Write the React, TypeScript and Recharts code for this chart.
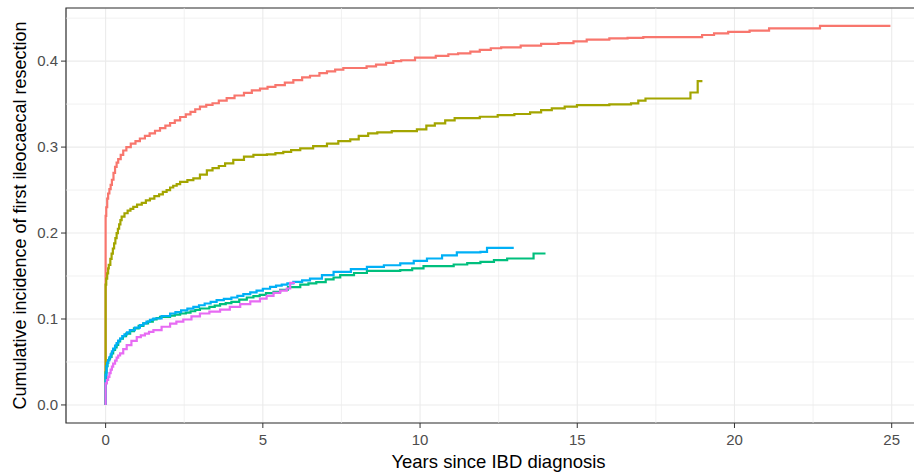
import { LineChart, Line, XAxis, YAxis, CartesianGrid, ReferenceLine, ReferenceArea } from 'recharts'

// [years, cumulative incidence] step points
const groupA: [number, number][] = [
  [0, 0], [0, 0.22], [0.02, 0.23], [0.05, 0.24], [0.08, 0.246], [0.12, 0.251], [0.16, 0.256],
  [0.2, 0.262], [0.25, 0.27], [0.3, 0.277], [0.35, 0.282], [0.4, 0.286], [0.48, 0.291],
  [0.56, 0.296], [0.66, 0.3], [0.8, 0.304], [0.95, 0.307], [1.09, 0.31], [1.25, 0.313],
  [1.4, 0.316], [1.57, 0.319], [1.73, 0.322], [1.9, 0.325], [2.05, 0.328], [2.2, 0.331],
  [2.37, 0.335], [2.55, 0.338], [2.7, 0.341], [2.85, 0.344], [3.0, 0.347], [3.2, 0.349],
  [3.4, 0.351], [3.6, 0.354], [3.85, 0.357], [4.1, 0.36], [4.4, 0.363], [4.65, 0.366],
  [4.91, 0.368], [5.15, 0.37], [5.4, 0.372], [5.7, 0.375], [5.97, 0.378], [6.25, 0.381],
  [6.5, 0.383], [6.8, 0.386], [7.04, 0.388], [7.3, 0.39], [7.56, 0.392], [8.3, 0.394],
  [8.6, 0.396], [8.92, 0.398], [9.15, 0.4], [9.4, 0.401], [9.84, 0.404], [10.5, 0.406],
  [10.9, 0.408], [11.21, 0.409], [11.6, 0.411], [11.9, 0.413], [12.25, 0.415], [12.58, 0.416],
  [13.2, 0.418], [13.85, 0.42], [14.4, 0.421], [14.88, 0.423], [15.3, 0.425], [16.02, 0.4265],
  [16.6, 0.427], [17.1, 0.428], [18.97, 0.4304], [19.35, 0.4323], [19.8, 0.434], [20.48, 0.4355],
  [21.1, 0.438], [22.72, 0.441], [24.96, 0.441],
]

const groupB: [number, number][] = [
  [0, 0], [0, 0.14], [0.02, 0.147], [0.05, 0.153], [0.08, 0.159], [0.1, 0.163], [0.15, 0.17],
  [0.19, 0.176], [0.23, 0.182], [0.27, 0.188], [0.31, 0.194], [0.35, 0.2], [0.39, 0.205],
  [0.43, 0.21], [0.47, 0.215], [0.51, 0.219], [0.6, 0.223], [0.7, 0.226], [0.79, 0.228],
  [0.88, 0.2305], [1.0, 0.233], [1.15, 0.235], [1.28, 0.238], [1.41, 0.24], [1.55, 0.243],
  [1.7, 0.245], [1.82, 0.248], [1.94, 0.25], [2.05, 0.253], [2.15, 0.255], [2.26, 0.257],
  [2.37, 0.2596], [2.6, 0.2615], [2.79, 0.2635], [3.0, 0.268], [3.22, 0.273], [3.4, 0.2755],
  [3.6, 0.278], [3.8, 0.281], [4.06, 0.285], [4.4, 0.289], [4.7, 0.291], [5.13, 0.2915],
  [5.4, 0.293], [5.65, 0.2945], [5.9, 0.2965], [6.19, 0.2985], [6.6, 0.301], [7.04, 0.304],
  [7.4, 0.307], [7.78, 0.309], [8.05, 0.313], [8.35, 0.316], [8.64, 0.317], [9.1, 0.3186],
  [9.9, 0.3205], [10.2, 0.325], [10.47, 0.3275], [10.8, 0.331], [11.1, 0.3337], [11.9, 0.3353],
  [12.47, 0.3372], [13.0, 0.3385], [13.5, 0.3404], [13.85, 0.343], [14.19, 0.345], [14.6, 0.347],
  [14.99, 0.3489], [16.02, 0.3497], [16.71, 0.3509], [16.94, 0.354], [17.17, 0.3565],
  [18.6, 0.3635], [18.83, 0.3768], [18.98, 0.3768],
]

const groupC: [number, number][] = [
  [0, 0], [0, 0.038], [0.03, 0.045], [0.06, 0.049], [0.08, 0.052], [0.11, 0.054], [0.14, 0.056],
  [0.19, 0.06], [0.24, 0.064], [0.3, 0.067], [0.35, 0.07], [0.4, 0.074], [0.46, 0.077],
  [0.55, 0.08], [0.65, 0.083], [0.78, 0.086], [0.9, 0.089], [1.05, 0.092], [1.2, 0.095],
  [1.35, 0.097], [1.5, 0.0995], [1.62, 0.101], [1.73, 0.1025], [2.05, 0.104], [2.2, 0.105],
  [2.37, 0.1064], [2.55, 0.1075], [2.7, 0.109], [2.85, 0.1105], [3.0, 0.1122], [3.3, 0.114],
  [3.47, 0.1155], [3.64, 0.1172], [3.82, 0.1185], [4.0, 0.12], [4.25, 0.1225], [4.49, 0.125],
  [4.7, 0.1265], [4.9, 0.128], [5.1, 0.13], [5.34, 0.1316], [5.55, 0.134], [5.8, 0.137],
  [6.19, 0.14], [6.45, 0.1415], [6.7, 0.143], [7.0, 0.146], [7.25, 0.1483], [7.46, 0.151],
  [7.9, 0.1535], [8.31, 0.156], [9.37, 0.1568], [9.75, 0.159], [10.11, 0.1615], [11.07, 0.1634],
  [11.5, 0.165], [11.92, 0.1665], [12.35, 0.1685], [12.77, 0.1704], [13.61, 0.1762],
  [13.99, 0.1762],
]

const groupD: [number, number][] = [
  [0, 0], [0, 0.035], [0.03, 0.045], [0.05, 0.049], [0.08, 0.052], [0.12, 0.0555], [0.16, 0.059],
  [0.2, 0.0625], [0.24, 0.0656], [0.3, 0.069], [0.35, 0.072], [0.4, 0.075], [0.46, 0.0773],
  [0.53, 0.08], [0.6, 0.082], [0.68, 0.0845], [0.77, 0.087], [0.93, 0.09], [1.09, 0.0928],
  [1.2, 0.095], [1.3, 0.097], [1.41, 0.099], [1.52, 0.1006], [1.78, 0.1035], [2.05, 0.1064],
  [2.22, 0.108], [2.4, 0.11], [2.6, 0.112], [2.79, 0.114], [2.97, 0.116], [3.15, 0.118],
  [3.34, 0.12], [3.53, 0.1219], [3.76, 0.1235], [4.0, 0.125], [4.19, 0.127], [4.38, 0.1289],
  [4.6, 0.131], [4.8, 0.133], [5.0, 0.1352], [5.23, 0.1374], [5.42, 0.1388], [5.6, 0.14],
  [5.78, 0.1415], [5.97, 0.1432], [6.25, 0.145], [6.5, 0.147], [6.88, 0.151], [7.25, 0.1549],
  [7.8, 0.158], [8.31, 0.1607], [8.85, 0.1625], [9.37, 0.1646], [9.8, 0.1675], [10.22, 0.1704],
  [10.7, 0.174], [11.17, 0.1774], [11.92, 0.1781], [12.13, 0.1828], [12.98, 0.1828],
]

const groupE: [number, number][] = [
  [0, 0], [0, 0.025], [0.04, 0.029], [0.08, 0.0326], [0.12, 0.037], [0.16, 0.041], [0.2, 0.0445],
  [0.24, 0.048], [0.3, 0.0515], [0.35, 0.055], [0.4, 0.0575], [0.46, 0.06], [0.56, 0.065],
  [0.67, 0.0695], [0.82, 0.0745], [0.99, 0.079], [1.12, 0.081], [1.25, 0.083], [1.38, 0.085],
  [1.52, 0.087], [1.78, 0.091], [2.05, 0.0947], [2.25, 0.097], [2.47, 0.0994], [2.73, 0.103],
  [3.0, 0.1064], [3.3, 0.1085], [3.64, 0.111], [3.95, 0.114], [4.28, 0.1172], [4.6, 0.1205],
  [4.91, 0.1238], [5.12, 0.127], [5.34, 0.1304], [5.55, 0.133], [5.76, 0.1355], [5.87, 0.142],
  [6.02, 0.142],
]

const SERIES = [
  { name: 'A', points: groupA, color: '#F8766D' },
  { name: 'B', points: groupB, color: '#A3A500' },
  { name: 'C', points: groupC, color: '#00BF7D' },
  { name: 'D', points: groupD, color: '#00B0F6' },
  { name: 'E', points: groupE, color: '#E76BF3' },
]

const xTicks = [0, 5, 10, 15, 20, 25]
const xMinor = [2.5, 7.5, 12.5, 17.5, 22.5]
const yTicks = [0, 0.1, 0.2, 0.3, 0.4]
const yMinor = [0.05, 0.15, 0.25, 0.35, 0.45]
const xDomain = [-1.26, 26.25]
const yDomain = [-0.021, 0.4618]

const FONT = '"Liberation Sans", Arial, sans-serif'
const tickStyle = { fill: '#4D4D4D', fontSize: 15, fontFamily: FONT }

export default function App() {
  return (
    <div style={{ position: 'absolute', left: 0, top: 0, width: 914, height: 472, overflow: 'hidden', background: '#fff' }}>
      <LineChart width={931} height={472} margin={{ top: 8, right: 0, bottom: 0, left: 0 }}>
        <CartesianGrid stroke="#EBEBEB" strokeWidth={1.1} />
        {xMinor.map(v => (
          <ReferenceLine key={`xm${v}`} x={v} stroke="#EBEBEB" strokeWidth={0.7} />
        ))}
        {yMinor.map(v => (
          <ReferenceLine key={`ym${v}`} y={v} stroke="#EBEBEB" strokeWidth={0.7} />
        ))}
        <XAxis
          type="number"
          dataKey="x"
          domain={xDomain}
          ticks={xTicks}
          allowDataOverflow
          height={49}
          axisLine={false}
          tickLine={{ stroke: '#333333' }}
          tickSize={5}
          tickMargin={6}
          tick={tickStyle}
          label={{
            value: 'Years since IBD diagnosis',
            position: 'insideBottom',
            offset: 4,
            style: { fill: '#000', fontSize: 18.5, fontFamily: FONT },
          }}
        />
        <YAxis
          type="number"
          domain={yDomain}
          ticks={yTicks}
          allowDataOverflow
          width={66}
          axisLine={false}
          tickLine={{ stroke: '#333333' }}
          tickSize={5}
          tickMargin={3}
          tick={tickStyle}
          tickFormatter={(v: number) => v.toFixed(1)}
          label={{
            value: 'Cumulative incidence of first ileocaecal resection',
            angle: -90,
            position: 'insideLeft',
            offset: 20,
            style: { fill: '#000', fontSize: 18, fontFamily: FONT, textAnchor: 'middle' },
          }}
        />
        {SERIES.map(s => (
          <Line
            key={s.name}
            data={s.points.map(([x, y]) => ({ x, y }))}
            dataKey="y"
            type="stepAfter"
            stroke={s.color}
            strokeWidth={2.2}
            dot={false}
            activeDot={false}
            isAnimationActive={false}
          />
        ))}
        <ReferenceArea
          x1={xDomain[0]}
          x2={xDomain[1]}
          y1={yDomain[0]}
          y2={yDomain[1]}
          fill="none"
          stroke="#333333"
          strokeWidth={1.2}
          ifOverflow="visible"
        />
      </LineChart>
    </div>
  )
}
